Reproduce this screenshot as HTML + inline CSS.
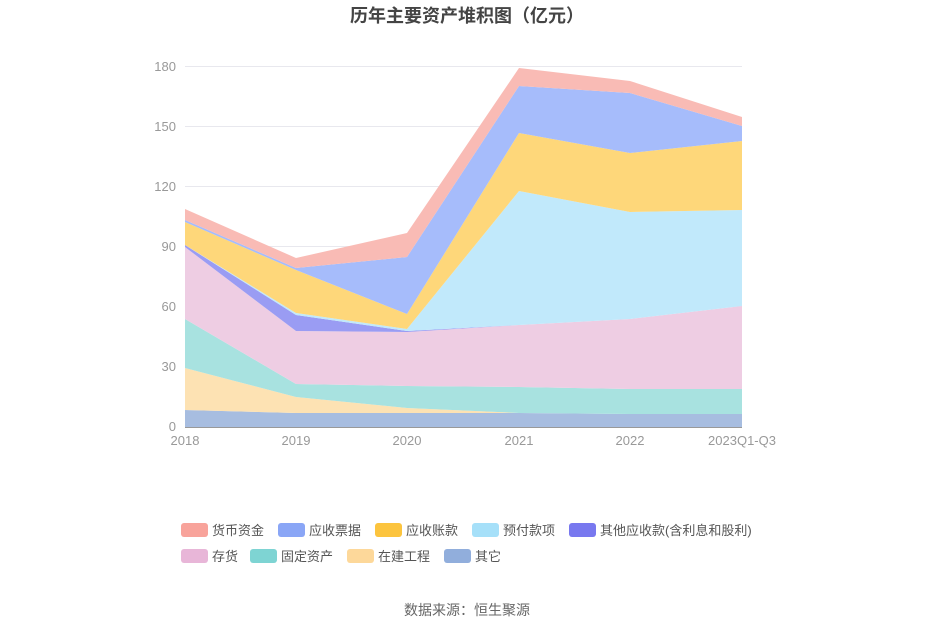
<!DOCTYPE html>
<html><head><meta charset="utf-8"><style>
body{margin:0;background:#fff;font-family:"Liberation Sans","Noto Sans CJK SC",sans-serif;}
</style></head><body>
<svg id="s" width="935" height="632" xmlns="http://www.w3.org/2000/svg" font-family="Liberation Sans, Noto Sans CJK SC, sans-serif">
<text x="467" y="22" text-anchor="middle" font-size="18" font-weight="bold" fill="#444">历年主要资产堆积图（亿元）</text>
<g stroke="#e8e8ee" stroke-width="1">
<line x1="185" x2="742" y1="66.5" y2="66.5"/><line x1="185" x2="742" y1="126.5" y2="126.5"/>
<line x1="185" x2="742" y1="186.5" y2="186.5"/><line x1="185" x2="742" y1="246.5" y2="246.5"/>
<line x1="185" x2="742" y1="306.5" y2="306.5"/><line x1="185" x2="742" y1="366.5" y2="366.5"/>
</g>
<g id="areas"></g>
<line x1="185" x2="742" y1="427.5" y2="427.5" stroke="#999"/>
<g font-size="13" fill="#999" text-anchor="end">
<text x="176" y="71">180</text><text x="176" y="131">150</text><text x="176" y="191">120</text>
<text x="176" y="251">90</text><text x="176" y="311">60</text><text x="176" y="371">30</text><text x="176" y="431">0</text>
</g>
<g font-size="13" fill="#999" text-anchor="middle">
<text x="185" y="445">2018</text><text x="296" y="445">2019</text><text x="407" y="445">2020</text>
<text x="519" y="445">2021</text><text x="630" y="445">2022</text><text x="742" y="445">2023Q1-Q3</text>
</g>
<g font-size="13" fill="#555">
<rect x="181" y="523" width="27" height="14" rx="3" fill="#f8a39b"/><text x="212" y="535">货币资金</text>
<rect x="278" y="523" width="27" height="14" rx="3" fill="#8aa6f6"/><text x="309" y="535">应收票据</text>
<rect x="375" y="523" width="27" height="14" rx="3" fill="#fcc43e"/><text x="406" y="535">应收账款</text>
<rect x="472" y="523" width="27" height="14" rx="3" fill="#a6e0f9"/><text x="503" y="535">预付款项</text>
<rect x="569" y="523" width="27" height="14" rx="3" fill="#7878ef"/><text x="600" y="535">其他应收款(含利息和股利)</text>
<rect x="181" y="549" width="27" height="14" rx="3" fill="#e8b6d8"/><text x="212" y="561">存货</text>
<rect x="250" y="549" width="27" height="14" rx="3" fill="#7ed4d3"/><text x="281" y="561">固定资产</text>
<rect x="347" y="549" width="27" height="14" rx="3" fill="#fdd89a"/><text x="378" y="561">在建工程</text>
<rect x="444" y="549" width="27" height="14" rx="3" fill="#91aedc"/><text x="475" y="561">其它</text>
</g>
<text x="467" y="615" text-anchor="middle" font-size="14" fill="#666">数据来源：恒生聚源</text>
</svg>
<script>
var xs=[185,296,407,519,630,742];
var tops=[
[410,413,413,413,414,414],
[368,397,408,413,414,414],
[319,384,386,387,389,389],
[247,331,332,325,319,306],
[245,315,331,325,319,306],
[245,313,329,191,212,210],
[222,270,314,133,153,141],
[220,268,257,86,93,126],
[209,258,233,68,81,117]];
var cols=["#a7bde0","#fde2b3","#a8e2e0","#eecde3","#9a9cf3","#c1e9fb","#fed77a","#a6bcfb","#f9bbb5"];
var g=document.getElementById('areas'),h='';
var prev=[427,427,427,427,427,427];
for(var i=0;i<tops.length;i++){
 var p=[];for(var j=0;j<6;j++)p.push(xs[j]+','+tops[i][j]);
 for(var j=5;j>=0;j--)p.push(xs[j]+','+prev[j]);
 h+='<polygon points="'+p.join(' ')+'" fill="'+cols[i]+'"/>';
 prev=tops[i];
}
g.innerHTML=h;
</script>
</body></html>
